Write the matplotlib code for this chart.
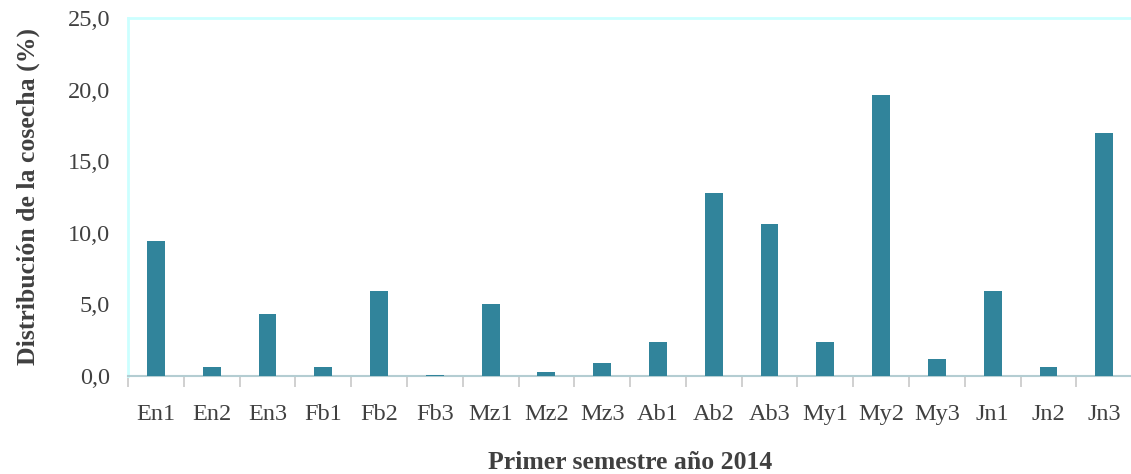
import numpy as np
import matplotlib.pyplot as plt

# Harvest share per ten-day period, first half of 2014
periods = ['En1', 'En2', 'En3', 'Fb1', 'Fb2', 'Fb3', 'Mz1', 'Mz2', 'Mz3',
           'Ab1', 'Ab2', 'Ab3', 'My1', 'My2', 'My3', 'Jn1', 'Jn2', 'Jn3']
harvest_pct = [9.4, 0.6, 4.3, 0.6, 5.9, 0.1, 5.0, 0.3, 0.9,
               2.4, 12.8, 10.6, 2.4, 19.6, 1.2, 5.9, 0.6, 17.0]
y_ticks = [0, 5, 10, 15, 20, 25]

plt.rcParams['font.family'] = ['Liberation Serif', 'DejaVu Serif']
text_color = '#404040'

fig = plt.figure(figsize=(11.31, 4.74), dpi=100)
ax = fig.add_axes([0.1132, 0.2068, 0.8878, 0.7553])

x = np.arange(len(periods))
ax.bar(x, harvest_pct, width=0.32, color='#31849B', zorder=3)

ax.set_xlim(-0.5, len(periods) - 0.5)
ax.set_ylim(0, 25)
ax.set_yticks(y_ticks)
ax.set_yticklabels([f'{v:.1f}'.replace('.', ',') for v in y_ticks])

# category labels centred, tick marks on the boundaries
ax.set_xticks(x)
ax.set_xticklabels(periods)
ax.set_xticks(np.arange(len(periods)) - 0.5, minor=True)
ax.tick_params(axis='x', which='major', length=0, pad=20,
               labelsize=17.5, labelcolor=text_color)
ax.tick_params(axis='x', which='minor', length=8, width=1.2, color='#C8C8C8')
ax.tick_params(axis='y', length=0, pad=13, labelsize=17.5, labelcolor=text_color)

for side in ['top', 'left']:
    ax.spines[side].set_color('#CCFFFF')
    ax.spines[side].set_linewidth(2)
ax.spines['right'].set_visible(False)
ax.spines['bottom'].set_color('#B4CDD2')
ax.spines['bottom'].set_linewidth(1.5)

ax.set_ylabel('Distribución de la cosecha (%)', fontsize=18.5, fontweight='bold',
              color=text_color, labelpad=20)
ax.set_xlabel('Primer semestre año 2014', fontsize=18.5, fontweight='bold',
              color=text_color, labelpad=19)

fig.savefig('out.png', dpi=100)
